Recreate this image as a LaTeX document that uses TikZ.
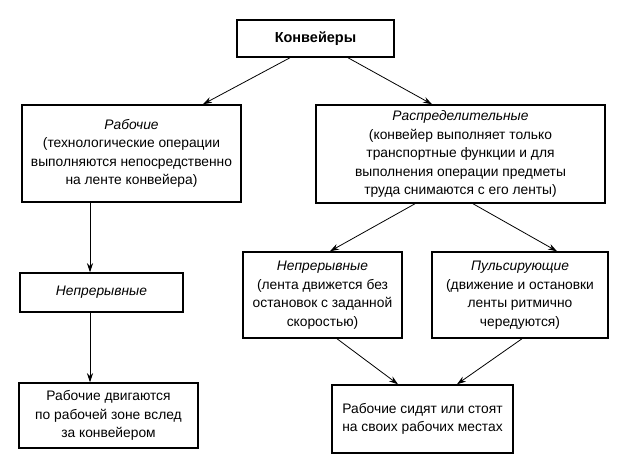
\documentclass[tikz,border=0pt]{standalone}
\usepackage{fontspec}
\setmainfont{Liberation Sans}
\usetikzlibrary{arrows.meta}
\begin{document}
\begin{tikzpicture}[x=1pt,y=-1pt,
  box/.style={draw, line width=1.5pt, rectangle, align=center, inner sep=0pt,
    font=\fontsize{13.8}{18.5}\selectfont},
  arr/.style={line width=0.8pt, -{Stealth[length=9pt,width=6pt]}}]
\useasboundingbox (0,0) rectangle (641,466);
\node[box, minimum width=157pt, minimum height=37pt, font=\fontsize{14.5}{16}\selectfont\bfseries] (top) at (315.5,38.5) {Конвейеры};
\node[box, minimum width=219pt, minimum height=97pt] (rab) at (131.5,153.5)
  {\textit{Рабочие}\\(технологические операции\\выполняются непосредственно\\на ленте конвейера)};
\node[box, minimum width=289pt, minimum height=98pt] (rasp) at (460.5,154)
  {\textit{Распределительные}\\(конвейер выполняет только\\транспортные функции и для\\выполнения операции предметы\\труда снимаются с его ленты)};
\node[box, minimum width=163pt, minimum height=39pt] (nep1) at (101.5,292.5)
  {\textit{Непрерывные}};
\node[box, minimum width=179pt, minimum height=65pt] (low1) at (108.5,415.5)
  {Рабочие двигаются\\по рабочей зоне вслед\\за конвейером};
\node[box, minimum width=159pt, minimum height=86pt] (nep2) at (322.5,295)
  {\textit{Непрерывные}\\(лента движется без\\остановок с заданной\\скоростью)};
\node[box, minimum width=176pt, minimum height=86pt] (puls) at (520,295)
  {\textit{Пульсирующие}\\(движение и остановки\\ленты ритмично\\чередуются)};
\node[box, minimum width=181pt, minimum height=68pt] (low2) at (422.5,419)
  {Рабочие сидят или стоят\\на своих рабочих местах};
\draw[arr] ([xshift=-25.5pt]top.south) -- ([xshift=71.5pt]rab.north);
\draw[arr] ([xshift=32.5pt]top.south) -- ([xshift=-28.5pt]rasp.north);
\draw[arr] ([xshift=-45.5pt]rasp.south) -- ([xshift=7.5pt]nep2.north);
\draw[arr] ([xshift=12.5pt]rasp.south) -- ([xshift=37pt]puls.north);
\draw[arr] ([xshift=-41.5pt]rab.south) -- ([xshift=-11.5pt]nep1.north);
\draw[arr] ([xshift=-11.5pt]nep1.south) -- ([xshift=-18.5pt]low1.north);
\draw[arr] ([xshift=14.5pt]nep2.south) -- ([xshift=-24.5pt]low2.north);
\draw[arr] ([xshift=2pt]puls.south) -- ([xshift=34.5pt]low2.north);
\end{tikzpicture}
\end{document}
